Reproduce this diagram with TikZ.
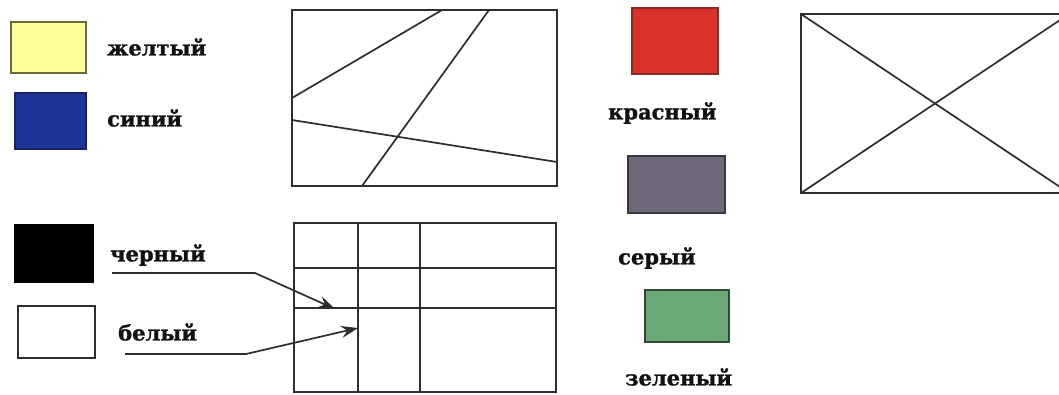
\documentclass[tikz,border=0pt]{standalone}
\usepackage{fontspec}
\setmainfont{DejaVu Serif}
\newfontfamily\lblfont{DejaVu Serif}[BoldFeatures={FakeBold=1.2}]
\usetikzlibrary{arrows.meta}
\definecolor{cyel}{HTML}{FFFF99}
\definecolor{cyelb}{HTML}{6B6B3A}
\definecolor{cblue}{HTML}{1F3497}
\definecolor{cblueb}{HTML}{17246E}
\definecolor{cred}{HTML}{D8322B}
\definecolor{credb}{HTML}{8A2A25}
\definecolor{cgray}{HTML}{6E6878}
\definecolor{cgrayb}{HTML}{38363E}
\definecolor{cgreen}{HTML}{6BA878}
\definecolor{cgreenb}{HTML}{2E4A33}
\definecolor{cline}{HTML}{2E2E2E}
\definecolor{ctext}{HTML}{111111}
\begin{document}
\begin{tikzpicture}[x=1pt,y=-1pt,
  swatch/.style={line width=1.8pt, anchor=north west, inner sep=0pt, outer sep=0pt},
  lbl/.style={anchor=west, inner sep=0pt, text=ctext, font=\lblfont\fontsize{21}{24}\selectfont\bfseries},
  frame/.style={draw=cline, line width=1.8pt, anchor=north west, inner sep=0pt, outer sep=0pt},
  thin/.style={draw=cline, line width=1.7pt},
  arr/.style={draw=cline, line width=1.7pt, -{Stealth[length=17pt,width=12pt,inset=6pt]}}]
\useasboundingbox (0,0) rectangle (1059,394);
\clip (0,0) rectangle (1059,394);
\fill[white] (0,0) rectangle (1059,394);

% swatches
\node[swatch, draw=cyelb, fill=cyel, minimum width=75pt, minimum height=51pt] (yellow) at (11,22) {};
\node[swatch, draw=cblueb, fill=cblue, minimum width=71pt, minimum height=56pt] (blue) at (15,93) {};
\node[swatch, draw=black, fill=black, minimum width=78pt, minimum height=57pt] (black) at (15,225) {};
\node[swatch, draw=cline, fill=white, minimum width=77pt, minimum height=52pt] (white) at (18,306) {};
\node[swatch, draw=credb, fill=cred, minimum width=86pt, minimum height=66pt] (red) at (632,8) {};
\node[swatch, draw=cgrayb, fill=cgray, minimum width=97pt, minimum height=57pt] (gray) at (628,156) {};
\node[swatch, draw=cgreenb, fill=cgreen, minimum width=84pt, minimum height=52pt] (green) at (645,290) {};

% labels
\node[lbl] (lyellow) at (107,47) {желтый};
\node[lbl] (lblue) at (107,118) {синий};
\node[lbl] (lblack) at (110,255) {черный};
\node[lbl] (lwhite) at (118,332) {белый};
\node[lbl] (lred) at (608,113) {красный};
\node[lbl] (lgray) at (618,258) {серый};
\node[lbl] (lgreen) at (625,377) {зеленый};

% frame with three lines
\node[frame, minimum width=265pt, minimum height=176pt] (f1) at (292,10) {};
\draw[thin] (292,98) -- (442,10);
\draw[thin] (489,10) -- (362,186);
\draw[thin] (292,120) -- (557,162);

% grid frame
\node[frame, minimum width=262pt, minimum height=169pt] (f2) at (294,223) {};
\draw[thin] (358,223) -- (358,392);
\draw[thin] (420,223) -- (420,392);
\draw[thin] (294,268) -- (556,268);
\draw[thin] (294,308) -- (556,308);

% frame with diagonals
\node[frame, minimum width=268pt, minimum height=179pt] (f3) at (801,14) {};
\draw[thin] (f3.north west) -- (f3.south east);
\draw[thin] (f3.south west) -- (f3.north east);

% pointers
\coordinate (bk0) at (112,273);
\coordinate (bk1) at (255,273);
\coordinate (bk2) at (335,309);
\coordinate (wh0) at (125,354);
\coordinate (wh1) at (246,354);
\coordinate (wh2) at (358,328);
\draw[arr] (bk0) -- (bk1) -- (bk2);
\draw[arr] (wh0) -- (wh1) -- (wh2);
\end{tikzpicture}
\end{document}
